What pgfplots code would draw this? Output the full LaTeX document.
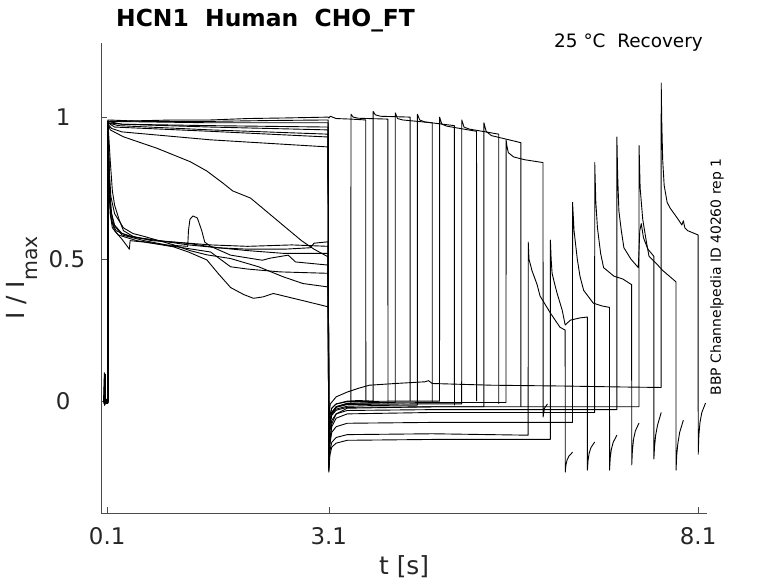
\documentclass[border=0pt]{standalone}
\usepackage{pgfplots}
\pgfplotsset{compat=1.18}
\usepackage{fontspec}
\setmainfont{DejaVu Sans}
\pgfplotsset{tr/.style={black, line width=0.9bp, line join=round, mark=none}}
\begin{document}
\begin{tikzpicture}
\useasboundingbox (0,0) rectangle (778bp,583bp);
\begin{axis}[
  at={(101.3bp,70bp)}, anchor=south west,
  scale only axis, width=605.7bp, height=470bp,
  xmin=0.02, xmax=8.22, ymin=-0.394, ymax=1.261,
  axis lines*=left,
  axis line style={-, draw=black!70, line width=0.5bp},
  tick align=inside,
  major tick length=6bp,
  every tick/.style={draw=black!70, line width=0.5bp},
  xtick={0.1,3.1,8.1}, xticklabels={0.1,3.1,8.1},
  ytick={0,0.5,1}, yticklabels={{0\kern0.64em},{0.5},{1\kern0.64em}},
  xticklabel style={font=\fontsize{23}{23}\selectfont, text=black!85, inner sep=0pt, yshift=-14bp},
  yticklabel style={font=\fontsize{23}{23}\selectfont, text=black!85, inner sep=0pt, xshift=-16bp},
  xlabel={t [s]},
  ylabel={I / I\raisebox{-13bp}{\fontsize{20.5}{20}\selectfont max}},
  xlabel style={at={(axis description cs:0.5,-0.115)}, anchor=center, font=\fontsize{25}{25}\selectfont, text=black!85},
  ylabel style={at={(axis description cs:-0.126,0.5)}, anchor=base, font=\fontsize{25}{25}\selectfont, text=black!85},
]
% k=0
\addplot[tr] coordinates {(0.05,0)(0.062,0.1)(0.064,-0.015)(0.068,0.09)(0.071,-0.012)(0.075,0.095)(0.078,-0.005)(0.09,0)(0.109,0)
(0.11,0.985)(0.5,0.987)(1.0,0.99)(1.5,0.99)(2.0,0.995)(2.5,0.997)(3.09,1.0)
(3.1,0.997)(3.12,1.003)(3.2,0.995)(3.4,0.993)(3.6,0.99)(3.601,0)};
% k=1
\addplot[tr] coordinates {(0.05,-0.005)(0.058,0)(0.06,0.085)(0.062,-0.01)(0.066,0.07)(0.068,-0.008)(0.109,-0.005)
(0.11,0.99)(0.6,0.985)(1.5,0.985)(2.3,0.988)(3.09,0.99)
(3.1,-0.13)(3.115,-0.07)(3.14,-0.04)(3.2,-0.02)(3.35,-0.01)(3.399,-0.01)
(3.4,1.01)(3.43,1.0)(3.5,0.996)(3.9,0.993)
(3.901,-0.01)};
% k=2
\addplot[tr] coordinates {(0.05,0.005)(0.109,0.005)
(0.11,0.985)(0.125,0.82)(0.14,0.72)(0.16,0.66)(0.2,0.62)(0.3,0.59)(0.5,0.575)(0.8,0.565)(1.2,0.55)(1.6,0.54)(2.0,0.535)(2.5,0.535)(2.85,0.54)(2.9,0.556)(3.09,0.561)
(3.1,-0.1)(3.115,-0.05)(3.14,-0.025)(3.2,-0.01)(3.35,0)(3.5,0.002)(3.699,0)
(3.7,1.02)(3.73,1.008)(3.8,1.003)(4.2,1.0)
(4.201,0)};
% k=3
\addplot[tr] coordinates {(0.05,0)(0.109,0)
(0.11,0.985)(1.5,0.98)(3.09,0.98)
(3.1,-0.155)(3.115,-0.08)(3.14,-0.045)(3.2,-0.02)(3.35,-0.008)(3.7,-0.005)(3.999,-0.005)
(4.0,1.015)(4.03,0.995)(4.1,0.99)(4.5,0.98)
(4.501,-0.005)};
% k=4
\addplot[tr] coordinates {(0.05,-0.008)(0.109,-0.008)
(0.11,0.985)(0.12,0.8)(0.135,0.7)(0.16,0.63)(0.22,0.6)(0.4,0.58)(0.8,0.565)(1.2,0.555)(1.6,0.54)(2.0,0.53)(2.5,0.52)(3.09,0.52)
(3.1,-0.135)(3.115,-0.075)(3.14,-0.045)(3.2,-0.028)(3.35,-0.018)(3.8,-0.015)(4.299,-0.014)
(4.3,1.01)(4.33,0.99)(4.4,0.983)(4.8,0.97)
(4.801,-0.015)};
% k=5
\addplot[tr] coordinates {(0.05,0)(0.109,0)
(0.11,0.985)(0.3,0.975)(1.5,0.97)(3.09,0.965)
(3.1,-0.1)(3.115,-0.05)(3.14,-0.025)(3.2,-0.01)(3.35,-0.002)(4.0,0)(4.599,0)
(4.6,1.0)(4.63,0.975)(4.7,0.968)(5.1,0.95)
(5.101,0)};
% k=6
\addplot[tr] coordinates {(0.05,-0.004)(0.109,-0.004)
(0.11,0.985)(0.12,0.97)(0.141,0.955)(0.317,0.931)(0.777,0.89)(1.224,0.843)(1.45,0.81)(1.67,0.767)(1.8,0.74)(2.04,0.715)(2.27,0.665)(2.5,0.615)(2.73,0.565)(2.9,0.535)(3.09,0.508)
(3.1,-0.14)(3.115,-0.075)(3.14,-0.042)(3.2,-0.022)(3.35,-0.012)(4.2,-0.01)(4.899,-0.01)
(4.9,0.99)(4.93,0.965)(5.0,0.958)(5.4,0.94)
(5.401,-0.01)};
% k=7
\addplot[tr] coordinates {(0.05,0.003)(0.109,0.003)
(0.11,0.985)(0.13,0.76)(0.15,0.67)(0.19,0.62)(0.3,0.585)(0.6,0.565)(0.9,0.55)(1.19,0.545)(1.2,0.6)(1.22,0.64)(1.26,0.652)(1.32,0.645)(1.38,0.6)(1.42,0.56)(1.5,0.545)(1.77,0.514)(2.2,0.496)(2.3,0.503)(2.55,0.514)(2.65,0.49)(3.09,0.479)
(3.1,-0.14)(3.115,-0.08)(3.14,-0.05)(3.2,-0.032)(3.35,-0.022)(4.5,-0.02)(5.199,-0.02)
(5.2,0.98)(5.23,0.95)(5.3,0.935)(5.7,0.91)
(5.701,-0.02)};
% k=8
\addplot[tr] coordinates {(0.05,0)(0.109,0)
(0.11,0.98)(0.3,0.975)(1.5,0.965)(3.09,0.955)
(3.1,-0.145)(3.115,-0.075)(3.14,-0.04)(3.2,-0.02)(3.35,-0.008)(4.5,-0.005)(5.499,-0.005)
(5.5,0.92)(5.51,0.9)(5.53,0.875)(5.6,0.86)(5.75,0.85)(6.0,0.84)
(6.001,-0.056)(6.02,-0.025)(6.06,-0.01)};
% k=9
\addplot[tr] coordinates {(0.05,-0.006)(0.109,-0.006)
(0.11,0.985)(0.125,0.75)(0.14,0.66)(0.17,0.61)(0.25,0.585)(0.5,0.565)(1.0,0.545)(1.5,0.525)(1.77,0.473)(2.0,0.465)(2.44,0.455)(3.09,0.45)
(3.1,-0.235)(3.115,-0.175)(3.14,-0.145)(3.2,-0.128)(3.35,-0.118)(4.5,-0.115)(5.799,-0.12)
(5.8,0.56)(5.81,0.5)(5.85,0.46)(5.92,0.41)(5.96,0.37)(6.1,0.31)(6.23,0.26)(6.3,0.25)
(6.301,-0.25)(6.31,-0.225)(6.325,-0.208)(6.35,-0.194)(6.4,-0.18)};
% k=10
\addplot[tr] coordinates {(0.05,0)(0.109,0)
(0.11,0.98)(0.25,0.97)(1.5,0.955)(3.09,0.94)
(3.1,-0.245)(3.115,-0.19)(3.14,-0.162)(3.2,-0.148)(3.35,-0.138)(4.5,-0.135)(6.099,-0.135)
(6.1,0.567)(6.11,0.5)(6.123,0.45)(6.16,0.41)(6.19,0.38)(6.26,0.32)(6.3,0.268)(6.37,0.285)(6.5,0.293)(6.6,0.296)
(6.601,-0.243)(6.61,-0.208)(6.625,-0.183)(6.65,-0.163)(6.7,-0.144)};
% k=11
\addplot[tr] coordinates {(0.05,-0.003)(0.109,-0.003)
(0.11,0.985)(0.13,0.8)(0.15,0.72)(0.2,0.66)(0.32,0.61)(0.45,0.59)(0.6,0.58)(0.8,0.565)(1.0,0.55)(1.22,0.53)(1.45,0.515)(1.77,0.502)(2.15,0.473)(2.48,0.438)(2.75,0.414)(3.09,0.402)
(3.1,-0.225)(3.115,-0.15)(3.14,-0.11)(3.2,-0.09)(3.35,-0.078)(4.5,-0.075)(6.399,-0.075)
(6.4,0.70)(6.42,0.6)(6.464,0.50)(6.5,0.44)(6.55,0.39)(6.68,0.345)(6.8,0.335)(6.9,0.33)
(6.901,-0.243)(6.91,-0.2)(6.925,-0.17)(6.95,-0.145)(7.0,-0.12)};
% k=12
\addplot[tr] coordinates {(0.05,0)(0.109,0)
(0.11,0.98)(0.2,0.965)(1.5,0.95)(3.09,0.93)
(3.1,-0.24)(3.115,-0.14)(3.14,-0.09)(3.2,-0.06)(3.35,-0.045)(4.5,-0.04)(6.699,-0.04)
(6.7,0.84)(6.715,0.7)(6.737,0.61)(6.78,0.52)(6.82,0.47)(6.96,0.44)(7.08,0.43)(7.2,0.41)
(7.201,-0.225)(7.21,-0.175)(7.225,-0.135)(7.25,-0.105)(7.3,-0.077)};
% k=13
\addplot[tr] coordinates {(0.05,0.004)(0.109,0.004)
(0.11,0.985)(0.125,0.76)(0.15,0.65)(0.2,0.6)(0.3,0.57)(0.4,0.535)(0.41,0.565)(0.6,0.56)(0.8,0.552)(1.0,0.543)(1.2,0.525)(1.45,0.497)(1.6,0.45)(1.77,0.40)(1.95,0.375)(2.08,0.362)(2.21,0.367)(2.35,0.379)(2.54,0.367)(2.81,0.35)(3.09,0.332)
(3.1,-0.18)(3.115,-0.105)(3.14,-0.068)(3.2,-0.045)(3.35,-0.033)(4.5,-0.03)(6.999,-0.03)
(7.0,0.93)(7.01,0.8)(7.027,0.67)(7.06,0.6)(7.095,0.54)(7.19,0.50)(7.29,0.47)(7.31,0.60)(7.33,0.625)(7.36,0.575)(7.42,0.535)(7.5,0.51)
(7.501,-0.204)(7.51,-0.16)(7.525,-0.12)(7.55,-0.085)(7.6,-0.04)};
% k=14
\addplot[tr] coordinates {(0.05,0)(0.109,0)
(0.11,0.975)(0.16,0.96)(0.3,0.948)(1.5,0.92)(3.09,0.895)
(3.1,-0.25)(3.115,-0.14)(3.14,-0.08)(3.2,-0.045)(3.35,-0.025)(4.5,-0.02)(7.299,-0.02)
(7.3,0.90)(7.315,0.75)(7.35,0.64)(7.4,0.56)(7.435,0.51)(7.55,0.48)(7.62,0.46)(7.8,0.42)
(7.801,-0.243)(7.81,-0.19)(7.825,-0.15)(7.85,-0.11)(7.9,-0.067)};
% k=15
\addplot[tr] coordinates {(0.05,-0.002)(0.109,-0.002)
(0.11,0.985)(0.14,0.85)(0.17,0.74)(0.2,0.69)(0.26,0.64)(0.32,0.6)(0.45,0.58)(0.7,0.565)(1.0,0.56)(1.5,0.55)(2.0,0.545)(2.6,0.55)(3.09,0.545)
(3.1,-0.06)(3.12,-0.01)(3.2,0.015)(3.35,0.032)(3.5,0.045)(3.65,0.056)(4.0,0.062)(4.4,0.068)(4.45,0.072)(4.5,0.062)(5.3,0.056)(6.3,0.053)(7.0,0.05)(7.599,0.048)
(7.6,1.12)(7.608,0.98)(7.62,0.85)(7.64,0.76)(7.68,0.70)(7.72,0.68)(7.83,0.64)(7.88,0.62)(7.9,0.635)(7.92,0.61)(7.96,0.60)(8.1,0.585)
(8.101,-0.187)(8.11,-0.12)(8.125,-0.075)(8.15,-0.04)(8.2,-0.007)};
\end{axis}
\node[anchor=base west, inner sep=0pt, font=\bfseries\fontsize{23.5}{28}\selectfont] at (116bp,556bp) {HCN1\ \ Human\ \ CHO\_FT};
\node[anchor=base east, inner sep=0pt, font=\fontsize{18.5}{22}\selectfont] at (703bp,535bp) {25 °C\ \ Recovery};
\node[rotate=90, anchor=center, inner sep=0pt, font=\fontsize{14}{16}\selectfont] at (717bp,306bp) {BBP Channelpedia ID 40260 rep 1};
\end{tikzpicture}
\end{document}
